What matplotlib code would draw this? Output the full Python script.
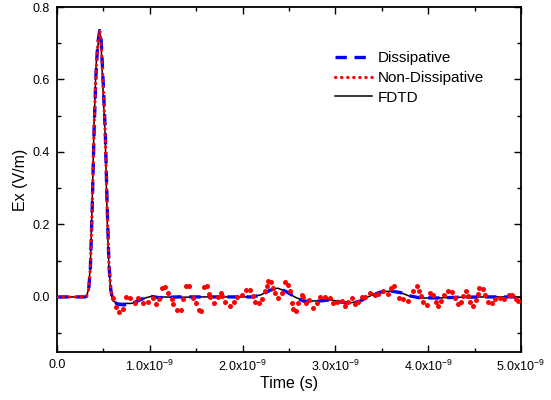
import numpy as np
import matplotlib
matplotlib.use("Agg")
from matplotlib import pyplot as plt
from matplotlib.ticker import MultipleLocator

plt.rcParams["font.family"] = ["Liberation Sans", "DejaVu Sans"]
plt.rcParams["mathtext.fontset"] = "custom"
plt.rcParams["mathtext.rm"] = "Liberation Sans"
plt.rcParams["mathtext.it"] = "Liberation Sans"

# times in ns
t_smooth = [0, 0.30, 0.32, 0.34, 0.36, 0.38, 0.40, 0.42, 0.43, 0.44, 0.46, 0.47, 0.48,
            0.50, 0.52, 0.54, 0.56, 0.58, 0.60, 0.65, 0.72, 0.80, 0.88, 0.95, 1.02,
            1.10, 1.30, 1.60, 1.90, 2.10, 2.20, 2.30, 2.38, 2.46, 2.56, 2.66, 2.80,
            2.95, 3.05, 3.15, 3.25, 3.35, 3.48, 3.60, 3.70, 3.80, 3.90, 4.10, 4.30,
            4.60, 5.00]
fdtd = [0, 0, 0.003, 0.02, 0.09, 0.27, 0.48, 0.63, 0.67, 0.69, 0.733, 0.72, 0.67,
        0.55, 0.44, 0.22, 0.08, 0.015, -0.01, -0.018, -0.018, -0.018, -0.012, -0.003,
        0.002, 0.0, -0.001, 0.0, 0.0, 0.0, 0.006, 0.02, 0.024, 0.016, 0.0, -0.011,
        -0.011, -0.008, -0.013, -0.017, -0.012, 0.0, 0.014, 0.016, 0.012, 0.002,
        -0.003, -0.003, -0.001, 0.0, 0.0]
dissipative = [0, 0, 0.002, 0.015, 0.08, 0.25, 0.46, 0.61, 0.66, 0.70, 0.735, 0.73,
               0.69, 0.58, 0.46, 0.26, 0.09, 0.02, -0.008, -0.02, -0.022, -0.019,
               -0.01, -0.002, 0.001, -0.002, 0.0, 0.0, 0.0, 0.0, 0.005, 0.019, 0.023,
               0.016, 0.001, -0.012, -0.012, -0.008, -0.014, -0.018, -0.013, -0.001,
               0.013, 0.016, 0.012, 0.003, -0.002, -0.003, -0.001, 0.0, 0.0]

# non-dissipative: pulse part (dotted line) and noisy tail (dots)
t_nd_pulse = [0, 0.30, 0.32, 0.34, 0.36, 0.38, 0.40, 0.42, 0.44, 0.46, 0.47, 0.48,
              0.50, 0.52, 0.54, 0.56, 0.58, 0.60]
nd_pulse = [0, 0, 0.002, 0.02, 0.08, 0.25, 0.47, 0.62, 0.70, 0.735, 0.72, 0.68,
            0.57, 0.45, 0.25, 0.09, 0.02, -0.005]
t_nd_tail = [0.607, 0.636, 0.668, 0.708, 0.744, 0.787, 0.84, 0.876, 0.93, 0.984,
             1.038, 1.067, 1.10, 1.128, 1.164, 1.20, 1.236, 1.253, 1.296, 1.336,
             1.361, 1.39, 1.426, 1.462, 1.498, 1.527, 1.552, 1.584, 1.62, 1.64,
             1.652, 1.695, 1.732, 1.767, 1.781, 1.81, 1.864, 1.907, 1.943, 1.997,
             2.037, 2.08, 2.115, 2.134, 2.18, 2.212, 2.241, 2.26, 2.277, 2.306,
             2.324, 2.349, 2.378, 2.421, 2.457, 2.492, 2.511, 2.529, 2.546, 2.572,
             2.60, 2.637, 2.654, 2.683, 2.716, 2.762, 2.798, 2.834, 2.888, 2.942,
             2.977, 3.02, 3.068, 3.103, 3.139, 3.176, 3.211, 3.247, 3.283, 3.319,
             3.373, 3.427, 3.462, 3.516, 3.57, 3.599, 3.635, 3.689, 3.732, 3.779,
             3.84, 3.876, 3.90, 3.922, 3.947, 3.984, 4.019, 4.055, 4.081, 4.102,
             4.138, 4.17, 4.21, 4.253, 4.289, 4.318, 4.353, 4.378, 4.404, 4.432,
             4.45, 4.486, 4.512, 4.533, 4.551, 4.594, 4.612, 4.641, 4.684, 4.72,
             4.774, 4.82, 4.871, 4.906, 4.943, 4.971]
nd_tail = [-0.004, -0.028, -0.043, -0.034, 0.0, -0.004, -0.017, -0.004, -0.016,
           -0.015, -0.004, -0.02, -0.006, 0.024, 0.028, 0.01, -0.006, -0.02, -0.036,
           -0.036, -0.006, 0.031, 0.031, -0.004, -0.017, -0.036, -0.04, 0.028, 0.029,
           0.008, 0.0, -0.017, 0.001, 0.01, 0.003, -0.013, -0.024, -0.013, 0.001,
           0.006, 0.019, 0.019, 0.003, -0.015, -0.016, -0.006, 0.015, 0.03, 0.045,
           0.04, 0.024, 0.01, -0.004, 0.01, 0.04, 0.033, 0.015, -0.017, -0.034,
           -0.04, -0.016, 0.006, 0.001, -0.017, -0.008, -0.031, -0.017, -0.001,
           0.001, -0.004, -0.017, -0.015, -0.01, -0.024, -0.013, -0.004, -0.019,
           -0.015, 0.001, 0.001, 0.01, 0.006, 0.008, 0.015, 0.008, 0.024, 0.03,
           -0.004, -0.006, -0.011, 0.015, 0.03, 0.017, 0.003, -0.015, -0.022, 0.01,
           0.006, -0.013, -0.025, -0.011, 0.006, 0.017, 0.013, -0.004, -0.019,
           -0.015, 0.003, 0.017, 0.003, -0.015, -0.025, -0.008, 0.008, 0.024, 0.022,
           0.006, -0.013, -0.017, -0.006, -0.004, -0.006, 0.006, 0.006, -0.006,
           -0.01]

x_ticks = [0, 1, 2, 3, 4, 5]
x_tick_labels = ["0.0", r"1.0x10$^{-9}$", r"2.0x10$^{-9}$", r"3.0x10$^{-9}$",
                 r"4.0x10$^{-9}$", r"5.0x10$^{-9}$"]

ns = 1e-9

fig = plt.figure(figsize=(5.51, 4.0), dpi=100)
ax = fig.add_axes([0.1034, 0.12, 0.8422, 0.8625])

(line_fdtd,) = ax.plot(np.array(t_smooth) * ns, fdtd, color="black", lw=1.1,
                       label="FDTD", zorder=2)
(line_diss,) = ax.plot(np.array(t_smooth) * ns, dissipative, color="#0000ff", lw=2.4,
                       linestyle=(0, (3.4, 2.3)), label="Dissipative", zorder=3)
(line_nd,) = ax.plot(np.array(t_nd_pulse) * ns, nd_pulse, color="#ff0000", lw=2.3,
                     linestyle=(0, (0.1, 1.8)), dash_capstyle="round",
                     label="Non-Dissipative", zorder=4)
ax.plot(np.array(t_nd_tail) * ns, nd_tail, linestyle="none", marker="o", ms=3.6,
        mew=0, color="#ff0000", zorder=4)

ax.set_xlim(0, 5 * ns)
ax.set_ylim(-0.152, 0.8)
ax.set_xticks(np.array(x_ticks) * ns)
ax.set_xticklabels(x_tick_labels)
ax.xaxis.set_minor_locator(MultipleLocator(0.5 * ns))
ax.yaxis.set_minor_locator(MultipleLocator(0.1))
ax.set_yticks([0.0, 0.2, 0.4, 0.6, 0.8])
ax.set_yticklabels(["0.0", "0.2", "0.4", "0.6", "0.8"])

ax.tick_params(which="both", direction="in", top=True, right=True, width=1.0,
               labelsize=9)
ax.tick_params(which="major", length=5)
ax.tick_params(which="minor", length=3)
ax.tick_params(axis="x", pad=5)
ax.tick_params(axis="y", pad=5)
for spine in ax.spines.values():
    spine.set_linewidth(1.3)

ax.set_xlabel("Time (s)", fontsize=11.5, labelpad=1)
ax.set_ylabel("Ex (V/m)", fontsize=11.5, labelpad=3)

ax.legend(handles=[line_diss, line_nd, line_fdtd], loc="upper left",
          bbox_to_anchor=(0.599, 0.872), frameon=False, fontsize=11,
          handlelength=2.4, handletextpad=0.4, labelspacing=0.38,
          borderpad=0, borderaxespad=0)

fig.savefig("out.png", dpi=100)
